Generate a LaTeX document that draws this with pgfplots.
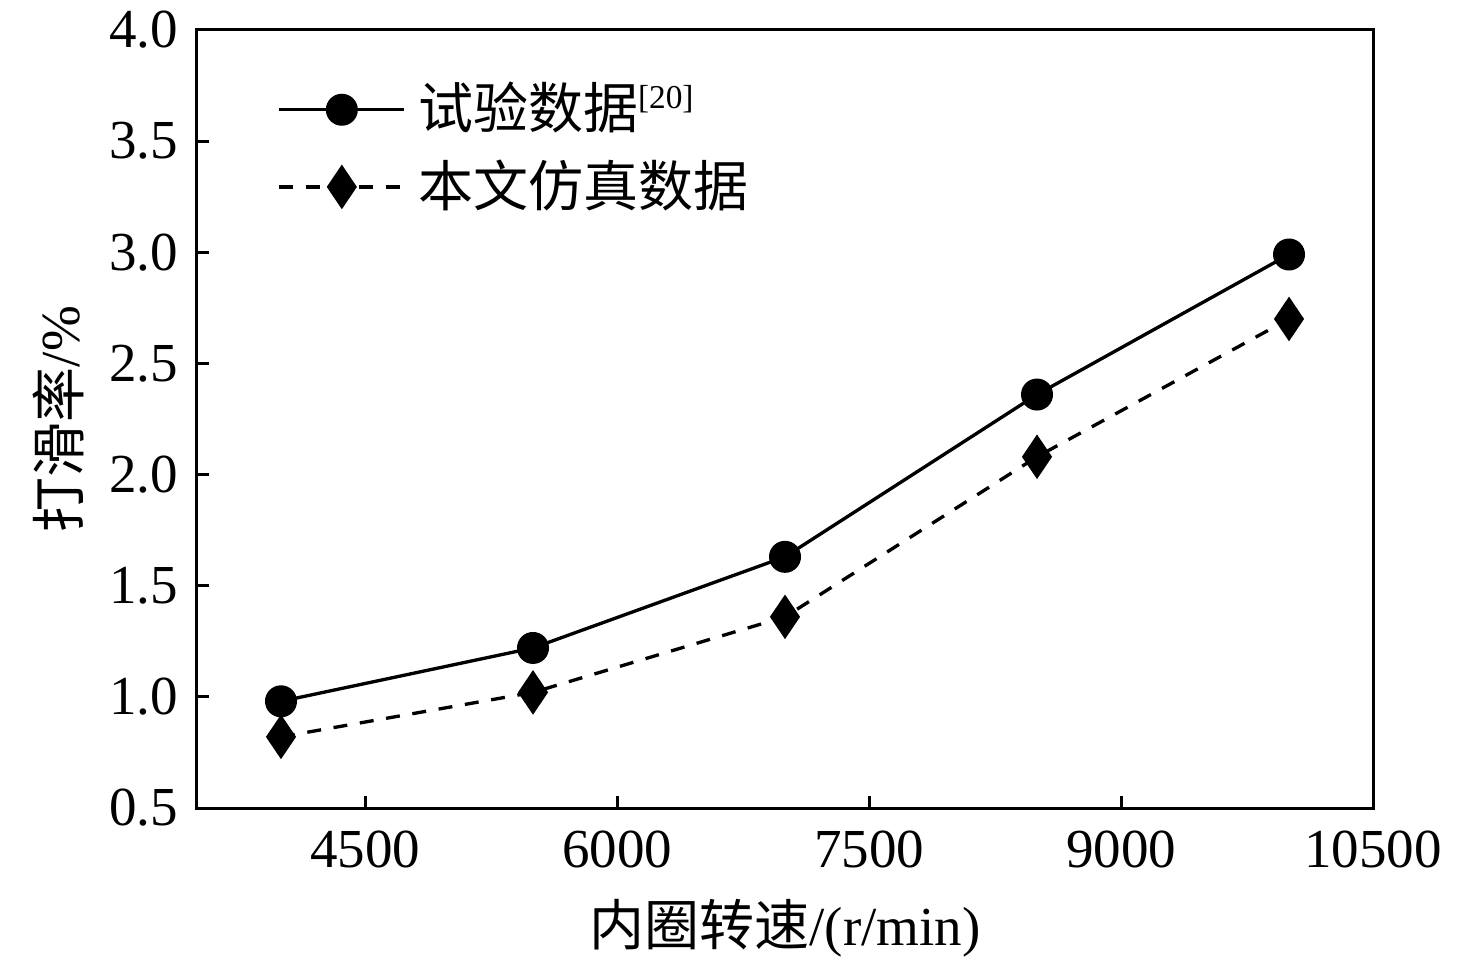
\documentclass[border=0pt]{standalone}
\usepackage{fontspec}
\setmainfont{Liberation Serif}
\newfontfamily\cjk{Noto Sans CJK SC}
\usepackage{pgfplots}
\pgfplotsset{compat=1.18}
\begin{document}
\fontsize{16.5}{20}\selectfont
\begin{tikzpicture}
\begin{axis}[
  name=ax,
  width=352.8pt, height=233.4pt, scale only axis,
  xmin=3500, xmax=10500, ymin=0.5, ymax=4.0,
  xtick={4500,6000,7500,9000,10500},
  ytick={0.5,1.0,1.5,2.0,2.5,3.0,3.5,4.0},
  scaled x ticks=false,
  tick align=inside, tick pos=left,
  major tick length=3.6pt,
  every tick/.style={black, line width=0.9pt},
  axis line style={line width=0.9pt},
  /pgf/number format/assume math mode=true,
  /pgf/number format/1000 sep={},
  yticklabel style={/pgf/number format/fixed, /pgf/number format/fixed zerofill, /pgf/number format/precision=1},
  xticklabel style={inner ysep=0pt},
  xticklabel shift=6.8pt,
  tick label style={font=\fontsize{16.5}{20}\selectfont},
  label style={font=\fontsize{16.5}{20}\selectfont},
  xlabel={{\cjk 内圈转速}/(r/min)},
  ylabel={{\cjk 打滑率}/\%},
  xlabel style={at={(axis description cs:0.5,0)}, anchor=center, yshift=-36pt},
  ylabel style={at={(axis description cs:0,0.5)}, anchor=center, yshift=41.5pt},
  legend cell align=left,
  legend style={at={(0,1)}, anchor=north west, xshift=24pt, yshift=-15.5pt,
    draw=none, fill=none, inner sep=0pt, row sep=6.7pt,
    font=\fontsize{16.5}{20}\selectfont,
    nodes={inner xsep=3.6pt, inner ysep=0pt}},
  legend image code/.code={\draw[mark repeat=2,mark phase=2,#1] plot coordinates {(0pt,0pt)(18.75pt,0pt)(37.5pt,0pt)};},
]
\addplot[black, line width=1pt, mark=*, mark size=4.3pt, mark options={solid, fill=black}]
  coordinates {(4000,0.98) (5500,1.22) (7000,1.63) (8500,2.36) (10000,2.99)};
\addlegendentry{{\cjk 试验数据}\textsuperscript{\fontsize{10}{12}\selectfont[20]}}
\addplot[black, line width=1pt, dash pattern=on 4.2pt off 3.8pt, mark=diamond*, mark size=5.8pt, mark options={solid, fill=black, xscale=0.9}]
  coordinates {(4000,0.82) (5500,1.02) (7000,1.36) (8500,2.08) (10000,2.70)};
\addlegendentry{{\cjk 本文仿真数据}}
\end{axis}
\pgfresetboundingbox
\useasboundingbox ([shift={(-59.1pt,-46.8pt)}]ax.south west) rectangle ([shift={(30.9pt,9pt)}]ax.north east);
\end{tikzpicture}
\end{document}
